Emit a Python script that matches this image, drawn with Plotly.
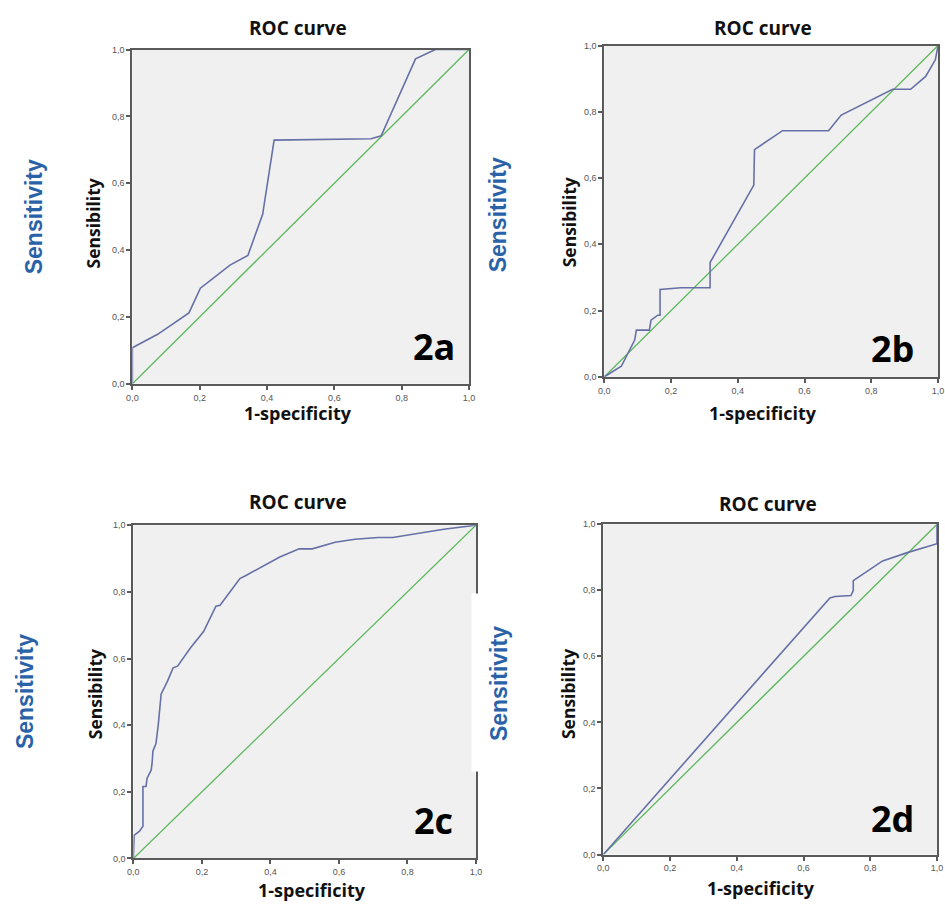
import plotly.graph_objects as go

W, H = 945, 907

# ---- data ----
a_x = [0.0, 0.0, 0.075, 0.168, 0.202, 0.29, 0.343, 0.387, 0.421, 0.60, 0.709, 0.739, 0.841, 0.90, 1.0]
a_y = [0.0, 0.108, 0.148, 0.212, 0.286, 0.355, 0.384, 0.507, 0.729, 0.732, 0.733, 0.742, 0.972, 1.0, 1.0]

b_x = [0.0, 0.051, 0.091, 0.096, 0.135, 0.140, 0.160, 0.167, 0.167, 0.229, 0.317, 0.317, 0.448, 0.450, 0.534, 0.672, 0.710, 0.864, 0.918, 0.963, 0.992, 1.0]
b_y = [0.0, 0.032, 0.111, 0.141, 0.141, 0.171, 0.186, 0.186, 0.264, 0.269, 0.269, 0.345, 0.579, 0.686, 0.743, 0.743, 0.790, 0.868, 0.868, 0.907, 0.957, 1.0]

c_x = [0.0, 0.002, 0.018, 0.028, 0.028, 0.037, 0.040, 0.052, 0.055, 0.057, 0.066, 0.073, 0.081, 0.100, 0.116, 0.129, 0.167, 0.205, 0.241, 0.253, 0.311, 0.330, 0.426, 0.484, 0.522, 0.589, 0.647, 0.714, 0.757, 0.820, 0.906, 1.0]
c_y = [0.0, 0.069, 0.082, 0.097, 0.216, 0.216, 0.241, 0.265, 0.290, 0.322, 0.345, 0.404, 0.493, 0.533, 0.572, 0.577, 0.632, 0.681, 0.757, 0.760, 0.840, 0.850, 0.904, 0.929, 0.929, 0.949, 0.958, 0.963, 0.963, 0.973, 0.988, 1.0]

d_x = [0.0, 0.679, 0.694, 0.742, 0.749, 0.749, 0.837, 0.911, 1.0, 1.0]
d_y = [0.0, 0.777, 0.781, 0.784, 0.799, 0.829, 0.889, 0.914, 0.941, 1.0]

ref_x = [0.0, 1.0]
ref_y = [0.0, 1.0]

tick_vals = [0.0, 0.2, 0.4, 0.6, 0.8, 1.0]
tick_text = ["0,0", "0,2", "0,4", "0,6", "0,8", "1,0"]
panel_labels = ["2a", "2b", "2c", "2d"]

# layout positions in pixels (plot box, and text centres)
boxes = [((128, 469), (45, 383)), ((606, 944), (41, 376)), ((129, 476), (526, 863)), ((605, 943), (525, 859))]
title_pos = [(296, 23), (767, 23), (296, 503), (772, 505)]
outer_pos = [(28, 214), (498, 212), (20, 694), (500, 686)]
ylab_pos = [(88, 221), (570, 220), (90, 697), (570, 697)]
xlab_pos = [(296, 413), (767, 413), (310, 895), (765, 893)]
tag_pos = [(434, 345), (898, 347), (433, 825), (898, 823)]

BLUE = "#6670a6"
GREEN = "#5cb85c"
AXC = "#5a5a5a"

fig = go.Figure()
layout = dict(
    width=W, height=H, margin=dict(l=0, r=0, t=0, b=0),
    paper_bgcolor="white", plot_bgcolor="#f0f0f0", showlegend=False,
    font=dict(family="Liberation Sans, Arial", color="#444"),
)
annotations = []
shapes = []

def px(x):
    return x / W

def py(y):
    return 1 - y / H

def text_at(t, pos, size, family, color, angle=0):
    return dict(text=t, x=px(pos[0]), y=py(pos[1]), xref="paper", yref="paper", xanchor="center",
                yanchor="middle", showarrow=False, textangle=angle,
                font=dict(family=family, size=size, color=color))

series = [(a_x, a_y), (b_x, b_y), (c_x, c_y), (d_x, d_y)]
for i, ((xs, ys), ((x0, x1), (y0, y1))) in enumerate(zip(series, boxes)):
    n = "" if i == 0 else str(i + 1)
    xa, ya = "x" + n, "y" + n
    fig.add_trace(go.Scatter(x=ref_x, y=ref_y, mode="lines", line=dict(color=GREEN, width=1.3),
                             xaxis=xa, yaxis=ya, hoverinfo="skip"))
    fig.add_trace(go.Scatter(x=xs, y=ys, mode="lines", line=dict(color=BLUE, width=1.6),
                             xaxis=xa, yaxis=ya))
    common = dict(range=[0, 1], tickvals=tick_vals, ticktext=tick_text, showgrid=False, zeroline=False,
                  showline=True, linecolor=AXC, linewidth=2, mirror=True, ticks="outside",
                  ticklen=4, tickwidth=1.5, tickcolor=AXC, tickfont=dict(size=9, color="#555"),
                  fixedrange=True)
    layout["xaxis" + n] = dict(common, domain=[px(x0), px(x1)], anchor=ya)
    layout["yaxis" + n] = dict(common, domain=[py(y1), py(y0)], anchor=xa)

    annotations.append(text_at("<b>ROC curve</b>", title_pos[i], 19, "Open Sans", "#111"))
    annotations.append(text_at("<b>1-specificity</b>", xlab_pos[i], 18, "Open Sans", "#111"))
    annotations.append(text_at("<b>Sensibility</b>", ylab_pos[i], 17.5, "Open Sans", "#111", -90))
    annotations.append(text_at("<b>Sensitivity</b>", outer_pos[i], 23, "Liberation Sans, Arial", "#2a62a8", -90))
    annotations.append(text_at("<b>" + panel_labels[i] + "</b>", tag_pos[i], 36, "Open Sans", "#000"))

# white patch covering part of panel c's right border
shapes.append(dict(type="rect", xref="paper", yref="paper", x0=px(471.5), x1=px(482), y0=py(775), y1=py(595),
                   fillcolor="white", line=dict(width=0), layer="above"))

layout["annotations"] = annotations
layout["shapes"] = shapes
fig.update_layout(**layout)
fig.write_html("out.html", config={"displayModeBar": False},
               post_script="document.body.style.margin='0';document.body.style.padding='0';"
                           "document.documentElement.style.overflow='hidden';")
